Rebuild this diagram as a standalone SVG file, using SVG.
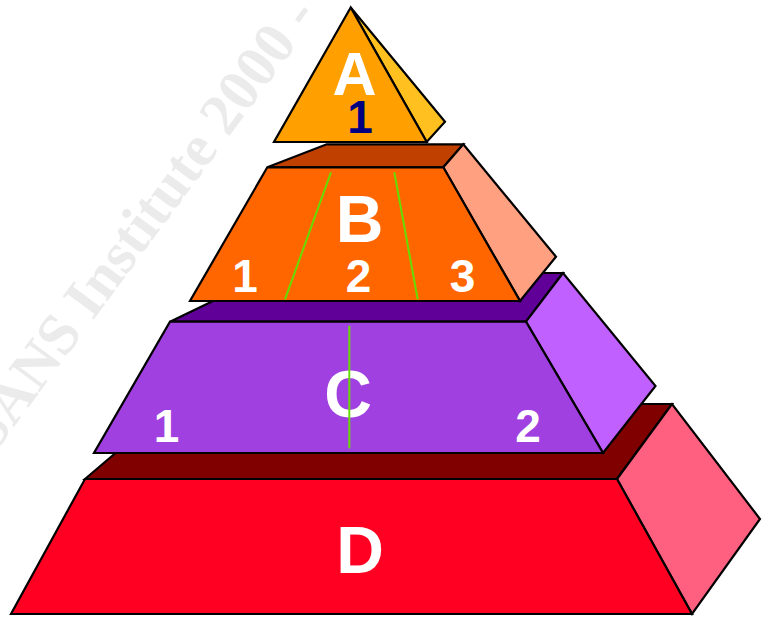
<svg xmlns="http://www.w3.org/2000/svg" width="762" height="617" viewBox="0 0 762 617">
  <style>
    .face { stroke: #000; stroke-width: 2.2; stroke-linejoin: miter; }
    .big { font-family: "Liberation Sans", Arial, sans-serif; font-weight: bold; font-size: 66px; fill: #fff; text-anchor: middle; }
    .num { font-family: "Liberation Sans", Arial, sans-serif; font-weight: bold; font-size: 46px; fill: #fff; text-anchor: middle; }
    .div { stroke: #66dd00; stroke-width: 2; fill: none; }
    .wm { font-family: "Liberation Serif", "Times New Roman", serif; font-weight: bold; font-size: 59px; fill: #ebebeb; }
  </style>
  <rect x="0" y="0" width="762" height="617" fill="#fff"/>
  <g id="watermark">
    <text class="wm" transform="translate(-6,454) rotate(-53.5)">SANS Institute 2000 -</text>
  </g>
  <g id="tierD">
    <polygon class="face" fill="#800000" points="85,479 173,404 672,404 617,479"/>
    <polygon class="face" fill="#ff6080" points="617,479 672,404 760,519 692,614"/>
    <polygon class="face" fill="#ff0022" points="85,479 617,479 692,614 11,614"/>
    <text class="big" x="360" y="573">D</text>
  </g>
  <g id="tierC">
    <polygon class="face" fill="#600099" points="170,321.7 271,273 563,273 526,321.7"/>
    <polygon class="face" fill="#c060ff" points="526,321.7 563,273 655.5,386 603,453"/>
    <polygon class="face" fill="#a040e0" points="170,321.7 526,321.7 603,453 94,453"/>
    <text class="big" x="348" y="416.7">C</text>
    <text class="num" x="166.5" y="441.7">1</text>
    <text class="num" x="528" y="441.7">2</text>
  </g>
  <g id="tierB">
    <polygon class="face" fill="#c04000" points="267.3,167.3 326.7,144.3 463.3,144.3 443.3,167.3"/>
    <polygon class="face" fill="#ffa080" points="443.3,167.3 463.3,144.3 556,256.7 520,301"/>
    <polygon class="face" fill="#ff6600" points="267.3,167.3 443.3,167.3 520,301 190,301"/>
    <text class="big" x="359.5" y="241.7">B</text>
    <text class="num" x="245" y="292">1</text>
    <text class="num" x="358.5" y="292">2</text>
    <text class="num" x="462.5" y="292">3</text>
  </g>
  <g id="tierA">
    <polygon class="face" fill="#ffc020" points="350.7,7.5 445,121.7 426.7,142"/>
    <polygon class="face" fill="#ffa000" points="350.7,7.5 274,142 426.7,142"/>
    <text class="big" x="354.5" y="95" style="font-size:61px">A</text>
    <text class="num" x="360" y="133.3" style="fill:#000080">1</text>
  </g>
  <g id="connectors">
    <line class="div" x1="331" y1="172.3" x2="285" y2="299.3"/>
    <line class="div" x1="394.3" y1="172.3" x2="417.7" y2="299.3"/>
    <line class="div" x1="349.3" y1="325.7" x2="349.3" y2="448.3"/>
  </g>
</svg>
